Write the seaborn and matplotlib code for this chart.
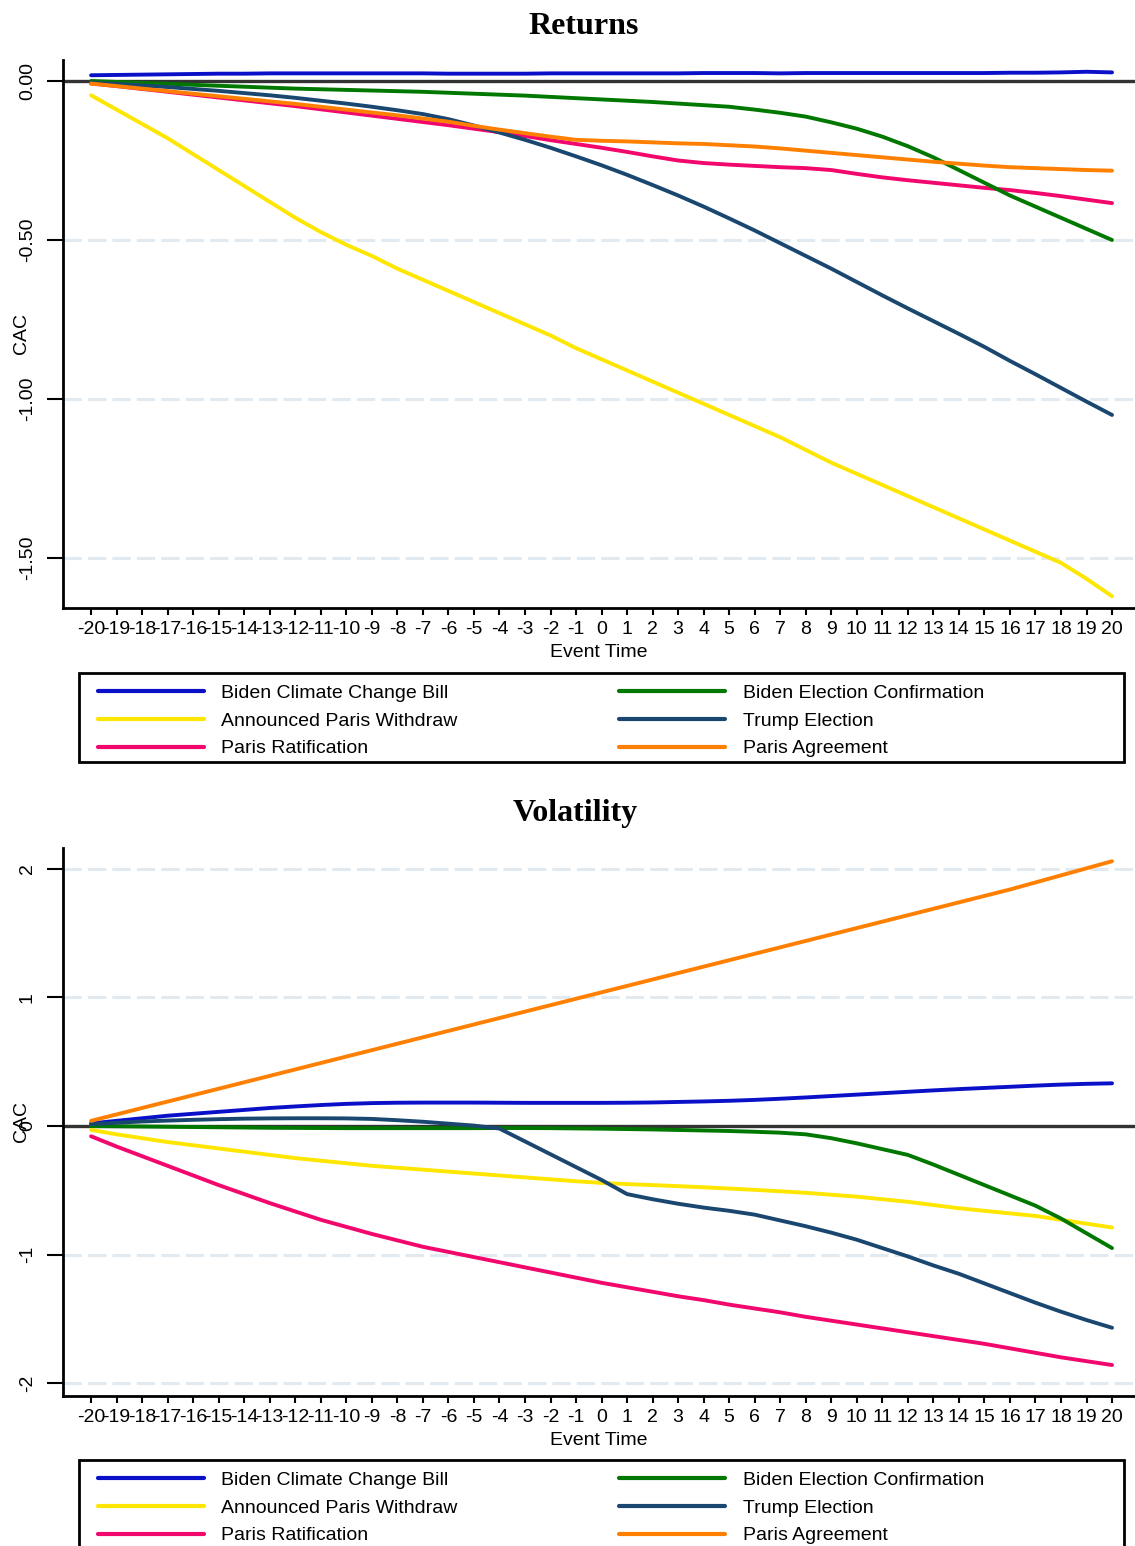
import matplotlib
matplotlib.use("Agg")
import matplotlib.pyplot as plt
from matplotlib.patches import Rectangle
import pandas as pd
import seaborn as sns

# ----------------------------------------------------------
# DATA
# ----------------------------------------------------------

EVENT_TIME = list(range(-20, 21))

EVENTS = [
    "Biden Climate Change Bill",
    "Announced Paris Withdraw",
    "Paris Ratification",
    "Biden Election Confirmation",
    "Trump Election",
    "Paris Agreement",
]

COLORS = {
    "Biden Climate Change Bill": "#0a10c8",
    "Announced Paris Withdraw": "#ffe600",
    "Paris Ratification": "#f2076c",
    "Biden Election Confirmation": "#007800",
    "Trump Election": "#1a476f",
    "Paris Agreement": "#ff8000",
}

# Returns panel
ret_biden_bill = [0.018, 0.019, 0.02, 0.021, 0.022, 0.023, 0.023, 0.024, 0.024, 0.024,
                  0.024, 0.024, 0.024, 0.024, 0.023, 0.023, 0.023, 0.023, 0.024, 0.024,
                  0.024, 0.024, 0.024, 0.024, 0.025, 0.025, 0.025, 0.024, 0.025, 0.025,
                  0.025, 0.025, 0.025, 0.025, 0.025, 0.025, 0.026, 0.026, 0.027, 0.029,
                  0.027]
ret_paris_withdraw = [-0.045, -0.09, -0.135, -0.18, -0.23, -0.28, -0.33, -0.38, -0.43, -0.475,
                      -0.515, -0.55, -0.59, -0.625, -0.66, -0.695, -0.73, -0.765, -0.8, -0.84,
                      -0.875, -0.91, -0.945, -0.98, -1.015, -1.05, -1.085, -1.12, -1.16, -1.2,
                      -1.235, -1.27, -1.305, -1.34, -1.375, -1.41, -1.445, -1.48, -1.515, -1.565,
                      -1.62]
ret_paris_ratification = [-0.008, -0.016, -0.025, -0.034, -0.043, -0.052, -0.061, -0.07, -0.079, -0.089,
                          -0.099, -0.109, -0.119, -0.129, -0.139, -0.15, -0.161, -0.173, -0.186, -0.198,
                          -0.21, -0.223, -0.237, -0.25, -0.258, -0.263, -0.267, -0.271, -0.274, -0.28,
                          -0.292, -0.303, -0.312, -0.32, -0.328, -0.336, -0.343, -0.352, -0.362, -0.373,
                          -0.384]
ret_biden_election = [0.0, -0.003, -0.006, -0.009, -0.012, -0.015, -0.018, -0.021, -0.024, -0.026,
                      -0.028, -0.03, -0.032, -0.034, -0.037, -0.04, -0.043, -0.046, -0.05, -0.054,
                      -0.058, -0.062, -0.066, -0.071, -0.076, -0.081, -0.09, -0.1, -0.112, -0.13,
                      -0.15, -0.175, -0.205, -0.24, -0.28, -0.32, -0.36, -0.395, -0.43, -0.465,
                      -0.5]
ret_trump_election = [-0.005, -0.009, -0.014, -0.019, -0.025, -0.031, -0.038, -0.045, -0.053, -0.062,
                      -0.071, -0.081, -0.092, -0.104, -0.12, -0.14, -0.162, -0.185, -0.21, -0.237,
                      -0.265, -0.295, -0.327, -0.36, -0.395, -0.432, -0.47, -0.51, -0.55, -0.59,
                      -0.632, -0.674, -0.715, -0.755, -0.795, -0.836, -0.88, -0.922, -0.965, -1.008,
                      -1.05]
ret_paris_agreement = [-0.008, -0.016, -0.024, -0.032, -0.04, -0.048, -0.056, -0.064, -0.072, -0.081,
                       -0.09, -0.099, -0.108, -0.118, -0.128, -0.141, -0.153, -0.164, -0.175, -0.185,
                       -0.188, -0.19, -0.193, -0.196, -0.198, -0.202, -0.206, -0.212, -0.219, -0.226,
                       -0.233, -0.24, -0.247, -0.254, -0.26, -0.266, -0.271, -0.274, -0.277, -0.28,
                       -0.282]

# Volatility panel
vol_biden_bill = [0.02, 0.04, 0.06, 0.08, 0.095, 0.11, 0.125, 0.14, 0.152, 0.163,
                  0.172, 0.178, 0.181, 0.182, 0.182, 0.182, 0.181, 0.18, 0.18, 0.18,
                  0.18, 0.181, 0.183, 0.187, 0.191, 0.196, 0.203, 0.212, 0.222, 0.233,
                  0.244, 0.255, 0.266, 0.277, 0.287, 0.296, 0.305, 0.314, 0.322, 0.328,
                  0.332]
vol_paris_withdraw = [-0.03, -0.065, -0.095, -0.125, -0.15, -0.175, -0.2, -0.225, -0.25, -0.27,
                      -0.29, -0.31, -0.325, -0.34, -0.355, -0.37, -0.385, -0.4, -0.415, -0.43,
                      -0.443, -0.452, -0.46, -0.468, -0.477, -0.487, -0.497, -0.508, -0.52, -0.535,
                      -0.55, -0.57, -0.59, -0.615, -0.64, -0.66, -0.68, -0.7, -0.73, -0.76,
                      -0.79]
vol_paris_ratification = [-0.08, -0.16, -0.235, -0.31, -0.385, -0.46, -0.53, -0.6, -0.665, -0.73,
                          -0.785, -0.84, -0.89, -0.94, -0.98, -1.02, -1.06, -1.1, -1.14, -1.18,
                          -1.22, -1.255, -1.29, -1.325, -1.355, -1.39, -1.42, -1.45, -1.485, -1.515,
                          -1.545, -1.575, -1.605, -1.635, -1.665, -1.695, -1.73, -1.765, -1.8, -1.83,
                          -1.86]
vol_biden_election = [0.0, -0.002, -0.004, -0.006, -0.008, -0.01, -0.012, -0.014, -0.015, -0.016,
                      -0.017, -0.017, -0.017, -0.017, -0.017, -0.017, -0.016, -0.016, -0.017, -0.019,
                      -0.021, -0.024, -0.027, -0.031, -0.035, -0.039, -0.045, -0.052, -0.065, -0.095,
                      -0.135, -0.18, -0.225, -0.3, -0.38, -0.46, -0.54, -0.62, -0.72, -0.835,
                      -0.95]
vol_trump_election = [0.015, 0.025, 0.035, 0.042, 0.048, 0.053, 0.057, 0.059, 0.06, 0.06,
                      0.059, 0.055, 0.045, 0.033, 0.018, 0.003, -0.02, -0.12, -0.22, -0.32,
                      -0.42, -0.53, -0.57, -0.605, -0.635, -0.66, -0.69, -0.735, -0.78, -0.83,
                      -0.885, -0.95, -1.015, -1.085, -1.15, -1.225, -1.3, -1.375, -1.445, -1.51,
                      -1.57]
vol_paris_agreement = [0.04, 0.09, 0.14, 0.19, 0.24, 0.29, 0.34, 0.39, 0.44, 0.49,
                       0.54, 0.59, 0.64, 0.69, 0.74, 0.79, 0.84, 0.89, 0.94, 0.99,
                       1.04, 1.09, 1.14, 1.19, 1.24, 1.29, 1.34, 1.39, 1.44, 1.49,
                       1.54, 1.59, 1.64, 1.69, 1.74, 1.79, 1.84, 1.895, 1.95, 2.005,
                       2.06]

RET_YTICKS = [0.0, -0.5, -1.0, -1.5]
RET_YLABELS = ["0.00", "-0.50", "-1.00", "-1.50"]
VOL_YTICKS = [2, 1, 0, -1, -2]
VOL_YLABELS = ["2", "1", "0", "-1", "-2"]

# ----------------------------------------------------------
# HELPERS
# ----------------------------------------------------------

W, H = 1135, 1546


def to_long(series):
    df = pd.DataFrame(series, index=EVENT_TIME)
    df.index.name = "Event Time"
    df = df.reset_index().melt(id_vars="Event Time", var_name="Event", value_name="CAC")
    return df


def fx(px):
    return px / W


def fy(py):
    return 1 - py / H


def draw_panel(fig, ax, df, yticks, ylabels, ylim, title, title_xy, leg_top):
    ax.axhline(0, color="#333333", lw=2.4, zorder=1)
    sns.lineplot(data=df, x="Event Time", y="CAC", hue="Event",
                 hue_order=EVENTS, palette=COLORS, lw=2.8, zorder=3, ax=ax)

    ax.set_xlim(-21.1, 20.9)
    ax.set_ylim(*ylim)
    ax.set_xticks(EVENT_TIME)
    ax.set_xticklabels([str(t) for t in EVENT_TIME])
    ax.set_yticks(yticks)
    ax.set_yticklabels(ylabels, rotation=90, va="center")

    ax.grid(axis="y", color="#e1eaf0", ls=(0, (6, 2)), lw=2.2)
    ax.grid(axis="x", visible=False)
    ax.set_axisbelow(True)

    sns.despine(ax=ax)
    for s in ["left", "bottom"]:
        ax.spines[s].set_linewidth(2)
        ax.spines[s].set_color("black")

    ax.tick_params(axis="y", length=11.5, width=1.5, pad=8, labelsize=14,
                   colors="black")
    ax.tick_params(axis="x", length=5, width=1.5, pad=4, labelsize=14,
                   colors="black")

    # the reference puts "CAC" right over the middle tick label
    ax.set_ylabel("CAC", fontsize=14, color="black")
    ax.yaxis.set_label_coords(-0.031, 0.5)
    ax.set_xlabel("Event Time", fontsize=14, va="top", color="black")
    ax.xaxis.set_label_coords(0.5, -0.066)

    fig.text(fx(title_xy[0]), fy(title_xy[1]), title, ha="center", va="center",
             fontsize=23, fontweight="bold", color="black",
             family=["Liberation Serif", "DejaVu Serif"])

    # legend: handles from seaborn, placed below the axes
    leg = ax.get_legend()
    handles = list(leg.legend_handles)
    labels = [t.get_text() for t in leg.get_texts()]
    leg.remove()
    for h in handles:
        h.set_linewidth(3.0)
    fig.legend(handles, labels, ncol=2, frameon=False, loc="upper left",
               bbox_to_anchor=(fx(98), fy(leg_top + 11)),
               borderpad=0, borderaxespad=0, fontsize=14, labelcolor="black",
               handlelength=5.45, handletextpad=0.9, columnspacing=8.3,
               labelspacing=0.53)
    fig.add_artist(Rectangle((fx(79), fy(leg_top + 89)), fx(1124) - fx(79),
                             89 / H, transform=fig.transFigure, fill=False,
                             lw=2, ec="black"))


# ----------------------------------------------------------
# MAIN
# ----------------------------------------------------------

sns.set_theme(style="ticks")
plt.rcParams["font.family"] = ["Liberation Sans", "DejaVu Sans"]
plt.rcParams["axes.unicode_minus"] = False
plt.rcParams["text.color"] = "black"

returns = to_long({
    "Biden Climate Change Bill": ret_biden_bill,
    "Announced Paris Withdraw": ret_paris_withdraw,
    "Paris Ratification": ret_paris_ratification,
    "Biden Election Confirmation": ret_biden_election,
    "Trump Election": ret_trump_election,
    "Paris Agreement": ret_paris_agreement,
})
volatility = to_long({
    "Biden Climate Change Bill": vol_biden_bill,
    "Announced Paris Withdraw": vol_paris_withdraw,
    "Paris Ratification": vol_paris_ratification,
    "Biden Election Confirmation": vol_biden_election,
    "Trump Election": vol_trump_election,
    "Paris Agreement": vol_paris_agreement,
})

fig = plt.figure(figsize=(W / 100, H / 100), dpi=100)
fig.patch.set_facecolor("white")

ax1 = fig.add_axes([fx(63), fy(608), 1 - fx(63), (608 - 60) / H])
ax2 = fig.add_axes([fx(63), fy(1396), 1 - fx(63), (1396 - 848) / H])

draw_panel(fig, ax1, returns, RET_YTICKS, RET_YLABELS, (-1.657, 0.066),
           "Returns", (584, 26), 673)
draw_panel(fig, ax2, volatility, VOL_YTICKS, VOL_YLABELS, (-2.101, 2.163),
           "Volatility", (575, 814), 1460)

fig.savefig("out.png", dpi=100, facecolor="white")
